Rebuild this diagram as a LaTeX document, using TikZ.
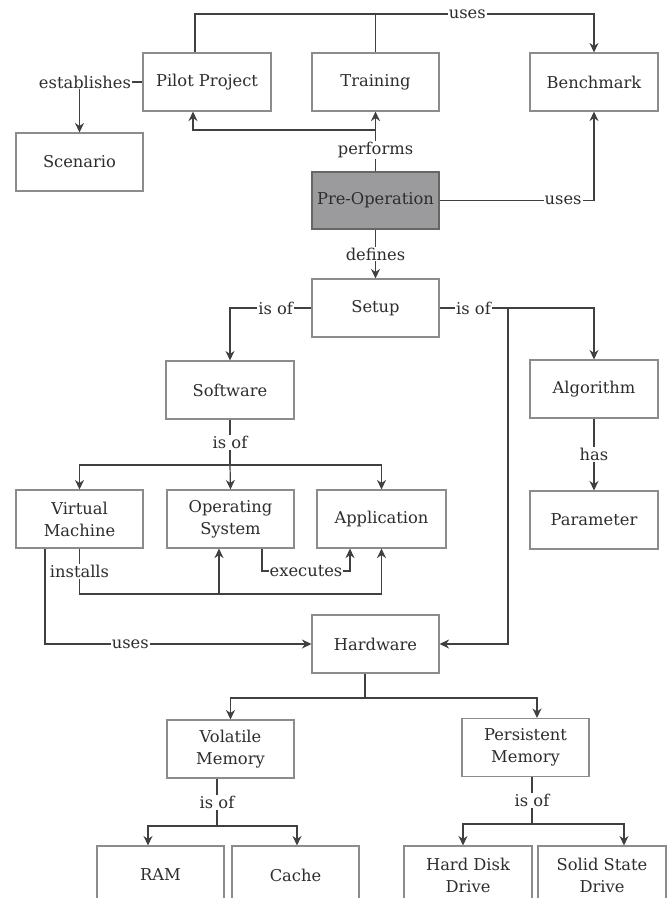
\documentclass[tikz,border=0pt]{standalone}
\usepackage{fontspec}
\setmainfont{DejaVu Serif}
\usetikzlibrary{arrows.meta}
\definecolor{linec}{RGB}{64,64,64}
\definecolor{boxc}{RGB}{140,140,140}
\definecolor{txtc}{RGB}{45,45,45}
\definecolor{fillc}{RGB}{155,155,158}
\begin{document}
\begin{tikzpicture}[x=1pt,y=-1pt,
  font=\fontsize{16.3}{22}\selectfont, text=txtc,
  box/.style={draw=boxc, line width=1.1pt, minimum width=127pt, minimum height=58pt, inner sep=0pt, align=center, fill=white},
  conn/.style={draw=linec, line width=1.2pt},
  arr/.style={conn, -{Stealth[length=9.5pt,width=9pt,inset=3pt]}},
  lbl/.style={fill=white, inner sep=1pt}]
\useasboundingbox (0,0) rectangle (668,898);
\clip (0,0) rectangle (668,898);
% nodes
\node[box, minimum width=128pt] (pilot) at (207,82) {Pilot Project};
\node[box] (training) at (375.5,82) {Training};
\node[box, minimum width=128pt] (bench) at (594,82) {Benchmark};
\node[box] (scen) at (79.5,162) {Scenario};
\node[box, fill=fillc, draw=gray!80!black, minimum height=57pt] (preop) at (375.5,200.5) {Pre-Operation};
\node[box] (setup) at (375.5,308) {Setup};
\node[box, minimum width=128pt] (soft) at (230,390) {Software};
\node[box, minimum width=128pt] (algo) at (594,389) {Algorithm};
\node[box, minimum width=128pt] (param) at (594,520) {Parameter};
\node[box] (vm) at (79.5,519) {Virtual\\Machine};
\node[box] (os) at (230.5,519) {Operating\\System};
\node[box, minimum width=129pt] (app) at (381.5,519) {Application};
\node[box] (hw) at (375.5,644) {Hardware};
\node[box] (vol) at (230.5,749) {Volatile\\Memory};
\node[box] (pers) at (525.5,747.5) {Persistent\\Memory};
\node[box] (ram) at (160.5,875) {RAM};
\node[box] (cache) at (295.5,875) {Cache};
\node[box, minimum width=128pt] (hdd) at (468,875) {Hard Disk\\Drive};
\node[box, minimum width=128pt] (ssd) at (602,875) {Solid State\\Drive};
% connectors
\coordinate (top) at (375.5,14);
\draw[arr] ([xshift=-12pt]pilot.north) |- (top) -| node[lbl, pos=0.21]{uses} (bench.north);
\draw[conn] (training.north) -- (top);
\draw[arr] (pilot.west) -- (79.5,82) -- (scen.north);
\node[lbl] (lest) at (85,82) {establishes};
\draw[arr] (preop.north) -- node[lbl, pos=0.36]{performs} (training.south);
\draw[arr] (375.5,130) -| ([xshift=-14pt]pilot.south);
\draw[arr] (preop.east) -| node[lbl, pos=0.4]{uses} (bench.south);
\draw[arr] (preop.south) -- node[lbl]{defines} (setup.north);
\draw[arr] (setup.west) -| node[lbl, pos=0.22]{is of} (soft.north);
\draw[arr] (setup.east) -| node[lbl, pos=0.11]{is of} (algo.north);
\draw[arr] (508,308) |- (hw.east);
\draw[arr] (algo.south) -- node[lbl]{has} (param.north);
\coordinate (swj) at (230,465);
\draw[conn] (soft.south) -- node[lbl]{is of} (swj);
\draw[arr] (swj) -| (vm.north);
\draw[arr] (swj) -| (app.north);
\draw[arr] (swj) -- (os.north);
\coordinate (inj) at (79.5,594);
\draw[arr] (vm.south) -- node[lbl]{installs} (inj) -| (app.south);
\draw[arr] (219,594) -- ([xshift=-11.5pt]os.south);
\draw[arr] ([xshift=31.5pt]os.south) -- (262,571) -- node[lbl, inner sep=0.5pt]{executes} (350,571) -- ([xshift=-31.5pt]app.south);
\draw[arr] ([xshift=-34.5pt]vm.south) |- node[lbl, pos=0.66]{uses} (hw.west);
\coordinate (hwj) at (365,698);
\draw[conn] ([xshift=-10.5pt]hw.south) -- (hwj);
\draw[arr] (hwj) -| (vol.north);
\draw[arr] (hwj) -| ([xshift=11.5pt]pers.north);
\coordinate (volj) at (217,826);
\draw[conn] ([xshift=-13.5pt]vol.south) -- node[lbl]{is of} (volj);
\draw[arr] (volj) -| ([xshift=-12.5pt]ram.north);
\draw[arr] (volj) -| ([xshift=1.5pt]cache.north);
\coordinate (persj) at (532,824);
\draw[conn] ([xshift=6.5pt]pers.south) -- node[lbl]{is of} (persj);
\draw[arr] (persj) -| ([xshift=-5pt]hdd.north);
\draw[arr] (persj) -| ([xshift=22pt]ssd.north);
\end{tikzpicture}
\end{document}
